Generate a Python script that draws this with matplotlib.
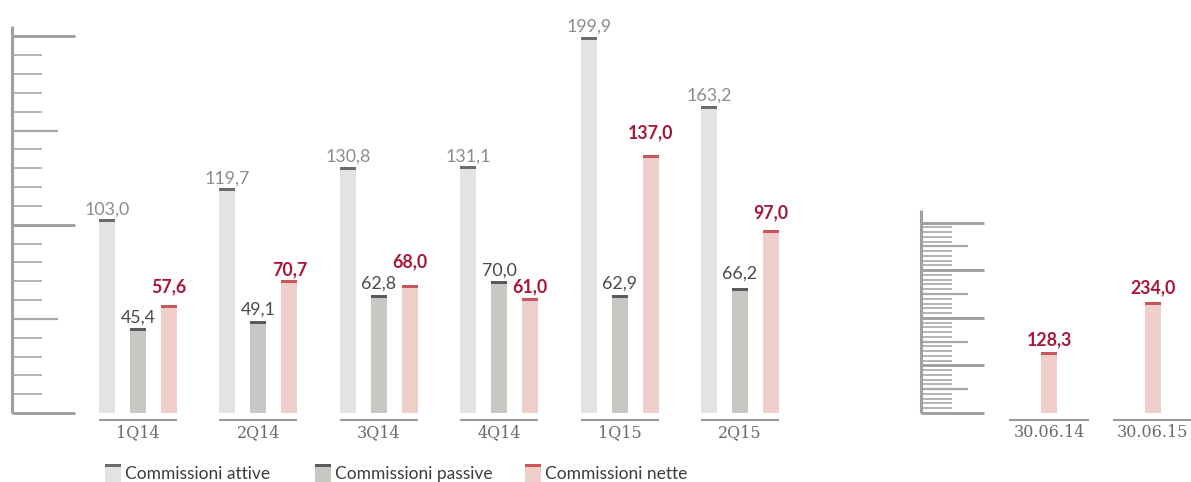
import matplotlib
matplotlib.use("Agg")
import matplotlib.pyplot as plt
from matplotlib.patches import Rectangle

# ---------------- data ----------------
quarters = ["1Q14", "2Q14", "3Q14", "4Q14", "1Q15", "2Q15"]
attive = [103.0, 119.7, 130.8, 131.1, 199.9, 163.2]
passive = [45.4, 49.1, 62.8, 70.0, 62.9, 66.2]
nette = [57.6, 70.7, 68.0, 61.0, 137.0, 97.0]
semesters = ["30.06.14", "30.06.15"]
nette_sem = [128.3, 234.0]
series_names = ["Commissioni attive", "Commissioni passive", "Commissioni nette"]

# ---------------- styles ----------------
fill_colors = ["#e4e2e4", "#c8c7c4", "#eecfca"]
cap_colors = ["#6b6b6b", "#5a5a5a", "#c9565a"]
label_colors = ["#8c8c8c", "#4a4a4a", "#a6173a"]
label_weights = ["normal", "normal", "bold"]
# label gap above bar top, in pixels (manual placement in the original)
gaps_px = [[4, 4, 5, 5, 5, 5],
           [5, 6, 6, 6, 6, 10],
           [12, 5, 18, 6, 17, 12]]
gaps_sem_px = [7, 8]

W, H = 1191, 482
fig = plt.figure(figsize=(W / 100, H / 100), dpi=100)
fig.patch.set_facecolor("white")


def px_axes(x0, y0, x1, y1):
    return fig.add_axes([x0 / W, (H - y1) / H, (x1 - x0) / W, (y1 - y0) / H])


def fmt(v):
    return f"{v:.1f}".replace(".", ",")


def clean(ax):
    for s in ax.spines.values():
        s.set_visible(False)
    ax.set_yticks([])
    ax.tick_params(axis="x", length=0)
    ax.patch.set_alpha(0)


def scale_decor(ax, vmax, step, major, medium, lens_px, top_val, width_px):
    tr = ax.get_yaxis_transform()
    v = 0
    while v <= vmax + 1e-9:
        if v % major == 0:
            L, lw, c = lens_px[0], 2.0, "#9c9c9c"
        elif v % medium == 0:
            L, lw, c = lens_px[1], 1.6, "#a8a8a8"
        else:
            L, lw, c = lens_px[2], 1.4, "#b4b4b4"
        ax.plot([0, L / width_px], [v, v], transform=tr, color=c, lw=lw,
                clip_on=False, solid_capstyle="butt")
        v += step
    ax.plot([0, 0], [0, top_val], transform=tr, color="#a0a0a0", lw=2.2,
            clip_on=False, solid_capstyle="butt")


LABEL_FONT = ["Lato", "DejaVu Sans"]
AXIS_FONT = ["DejaVu Serif"]
LABEL_SIZE = 12.8

# ---------------- left panel ----------------
L_x0, L_x1, TOP, BASE = 12, 800, 20, 413
ppu_L = 1.883
axL = px_axes(L_x0, TOP, L_x1, BASE)
axL.set_ylim(0, (BASE - TOP) / ppu_L)
axL.set_xlim(-1.047, 5.498)
clean(axL)
grp = 120.4
off = 31 / grp
bw = 16 / grp
cap_L = 3 / ppu_L
series = [attive, passive, nette]
xs = list(range(len(quarters)))
for k, vals in enumerate(series):
    pos = [x + (k - 1) * off for x in xs]
    axL.bar(pos, vals, width=bw, color=fill_colors[k], linewidth=0, zorder=2)
    axL.bar(pos, [cap_L] * len(vals), bottom=[v - cap_L for v in vals],
            width=bw, color=cap_colors[k], linewidth=0, zorder=3)
    for i, (p, v) in enumerate(zip(pos, vals)):
        axL.annotate(fmt(v), (p, v), xytext=(0, gaps_px[k][i] * 0.72),
                     textcoords="offset points", ha="center", va="baseline",
                     fontsize=LABEL_SIZE, color=label_colors[k],
                     fontweight=label_weights[k], family=LABEL_FONT, zorder=4)

scale_decor(axL, 200, 10, 100, 50, (63, 46, 30), 205.5, L_x1 - L_x0)
trL = axL.get_xaxis_transform()
for x in xs:
    axL.plot([x - 39 / grp, x + 39 / grp], [-7 / (BASE - TOP)] * 2, transform=trL,
             color="#9a9a9a", lw=1.5, clip_on=False, solid_capstyle="butt")
axL.set_xticks(xs)
axL.set_xticklabels(quarters, family=AXIS_FONT, fontsize=11.5, color="#6a6a6a")
axL.tick_params(axis="x", pad=8)

# ---------------- right panel ----------------
R_x0, R_x1 = 921, 1191
ppu_R = 0.476
axR = px_axes(R_x0, TOP, R_x1, BASE)
axR.set_ylim(0, (BASE - TOP) / ppu_R)
axR.set_xlim(-1.2308, 1.3654)
clean(axR)
sp = 104.0
cap_R = 3 / ppu_R
xr = list(range(len(semesters)))
axR.bar(xr, nette_sem, width=16 / sp, color=fill_colors[2], linewidth=0, zorder=2)
axR.bar(xr, [cap_R] * len(nette_sem), bottom=[v - cap_R for v in nette_sem],
        width=16 / sp, color=cap_colors[2], linewidth=0, zorder=3)
for i, (p, v) in enumerate(zip(xr, nette_sem)):
    axR.annotate(fmt(v), (p, v), xytext=(0, gaps_sem_px[i] * 0.72),
                 textcoords="offset points", ha="center", va="baseline",
                 fontsize=LABEL_SIZE, color=label_colors[2], fontweight="bold",
                 family=LABEL_FONT, zorder=4)
scale_decor(axR, 400, 10, 100, 50, (63, 47, 31), 426, R_x1 - R_x0)
trR = axR.get_xaxis_transform()
for x in xr:
    axR.plot([x - 40 / sp, x + 40 / sp], [-7 / (BASE - TOP)] * 2, transform=trR,
             color="#9a9a9a", lw=1.5, clip_on=False, solid_capstyle="butt")
axR.set_xticks(xr)
axR.set_xticklabels(semesters, family=AXIS_FONT, fontsize=11.5, color="#6a6a6a")
axR.tick_params(axis="x", pad=8)

# ---------------- legend ----------------
ov = fig.add_axes([0, 0, 1, 1])
ov.set_xlim(0, W)
ov.set_ylim(H, 0)
ov.axis("off")
for k, name in enumerate(series_names):
    x0 = 105 + 210 * k
    ov.add_patch(Rectangle((x0, 464), 16, 20, facecolor=fill_colors[k], lw=0))
    ov.add_patch(Rectangle((x0, 464), 16, 3, facecolor=cap_colors[k], lw=0))
    ov.text(x0 + 20, 474, name, va="center", ha="left", fontsize=12.5,
            color="#3c3c3c", family=LABEL_FONT)

fig.savefig("out.png", dpi=100, facecolor="white")
